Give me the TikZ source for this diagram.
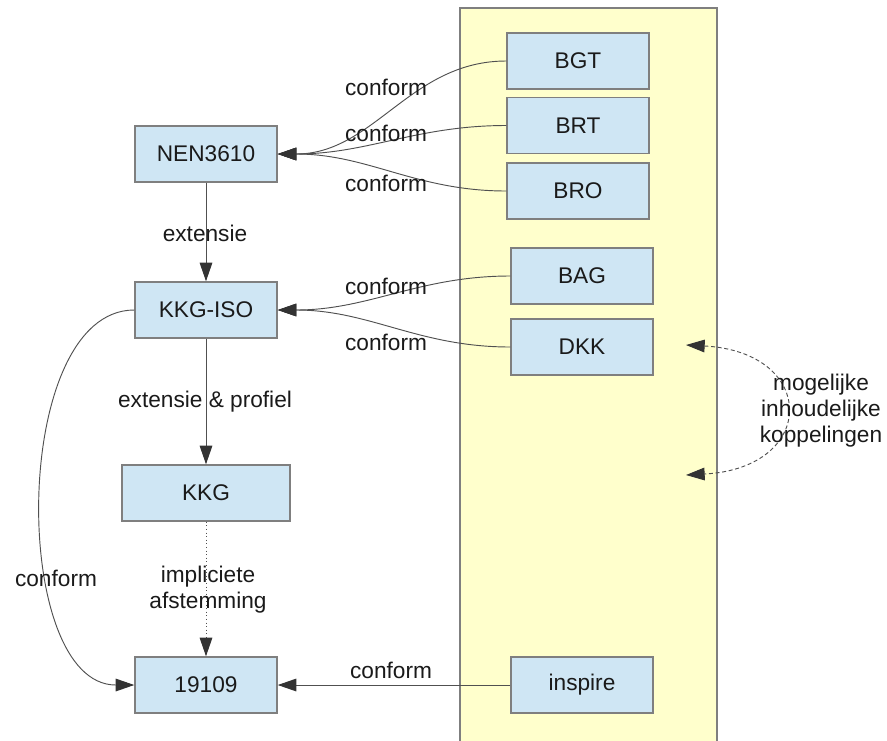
\documentclass[tikz,border=0pt]{standalone}
\usepackage{fontspec}
\setmainfont{Liberation Sans}
\usetikzlibrary{arrows.meta}
\definecolor{boxfill}{HTML}{CFE6F4}
\definecolor{boxline}{HTML}{7F7F7F}
\definecolor{zone}{HTML}{FFFFCC}
\definecolor{wire}{HTML}{505050}
\definecolor{tip}{HTML}{333333}
\definecolor{ink}{HTML}{1A1A1A}
\tikzset{
  model/.style={draw=boxline, line width=1.1pt, fill=boxfill, text=ink,
    minimum width=106.5pt, minimum height=42pt, inner sep=0pt},
  widemodel/.style={model, minimum width=126pt},
  relation/.style={draw=wire, line width=0.7pt,
    -{Triangle[length=14pt,width=9.5pt,color=tip]}},
  hint/.style={relation, dotted},
  lbl/.style={text=ink, inner sep=0pt, align=center},
}
\begin{document}
\begin{tikzpicture}[x=0.75pt,y=-0.75pt,font=\fontsize{17}{19.5}\selectfont]
\useasboundingbox (0,0) rectangle (887,740);
% register zone on the right
\fill[zone] (460,8) rectangle (717,745);
\draw[boxline, line width=1.1pt] (460,745) |- (717,8) -- (717,745);

% base and derived models
\node[model] (nen) at (206,154) {NEN3610};
\node[model] (kkgiso) at (206,310) {KKG-ISO};
\node[widemodel] (kkg) at (206,493) {KKG};
\node[model] (iso) at (206,685) {19109};

% registrations
\node[model] (bgt) at (578,61) {BGT};
\node[model] (brt) at (578,125.5) {BRT};
\node[model] (bro) at (578,191) {BRO};
\node[model] (bag) at (582,276) {BAG};
\node[model] (dkk) at (582,347) {DKK};
\node[model] (inspire) at (582,685) {inspire};

% vertical chain
\draw[relation] (nen) -- (kkgiso);
\draw[relation] (kkgiso) -- (kkg);
\draw[hint] (kkg) -- (iso);
\draw[relation] (kkgiso.west) .. controls (10,310) and (10,685) .. (iso.west);

\node[lbl] (l-ext) at (205,233) {extensie};
\node[lbl] (l-extp) at (205,402) {extensie \& profiel};
\node[lbl] (l-impl) at (208,590) {impliciete\\afstemming};
\node[lbl] (l-left) at (56,578) {conform};

% conformance links from the registrations
\draw[relation] (bgt.west) to[out=180,in=0] (nen.east);
\draw[relation] (brt.west) to[out=180,in=0] (nen.east);
\draw[relation] (bro.west) to[out=180,in=0] (nen.east);
\draw[relation] (bag.west) to[out=180,in=0] (kkgiso.east);
\draw[relation] (dkk.west) to[out=180,in=0] (kkgiso.east);
\draw[relation] (inspire.west) -- (iso.east);

\node[lbl] (l-bgt) at (386,87) {conform};
\node[lbl] (l-brt) at (386,133) {conform};
\node[lbl] (l-bro) at (386,183) {conform};
\node[lbl] (l-bag) at (386,286) {conform};
\node[lbl] (l-dkk) at (386,342) {conform};
\node[lbl] (l-insp) at (391,670) {conform};

% possible content links
\coordinate (c-top) at (686,345);
\coordinate (c-bot) at (686,475);
\draw[wire, line width=0.7pt, densely dashed,
  {Triangle[length=14pt,width=9.5pt,color=tip]}-{Triangle[length=14pt,width=9.5pt,color=tip]}]
  (c-top) .. controls (818,352) and (818,468) .. (c-bot);
\node[lbl] (l-mog) at (821,411) {mogelijke\\inhoudelijke\\koppelingen};
\end{tikzpicture}
\end{document}
